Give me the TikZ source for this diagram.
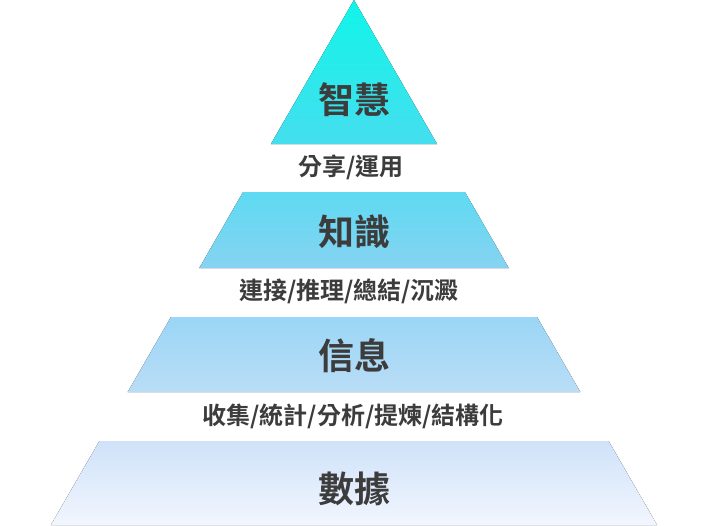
\documentclass[tikz,border=0pt]{standalone}
\usepackage{fontspec}
\newfontfamily\cjk{Noto Sans CJK TC}[BoldFont={Noto Sans CJK TC Bold}]
\definecolor{txt}{HTML}{3C3C3C}
\definecolor{aTop}{HTML}{10F5E9}
\definecolor{aBot}{HTML}{45DEEE}
\definecolor{bTop}{HTML}{5EDAF2}
\definecolor{bBot}{HTML}{86D3F1}
\definecolor{cTop}{HTML}{9AD6F6}
\definecolor{cBot}{HTML}{BADDF6}
\definecolor{dTop}{HTML}{CFE2F9}
\definecolor{dBot}{HTML}{F2F6FE}
\tikzset{
  biglabel/.style={inner sep=0pt, text=txt, font=\cjk\bfseries\fontsize{36}{40}\selectfont},
  smalllabel/.style={inner sep=0pt, text=txt, font=\cjk\bfseries\fontsize{24}{28}\selectfont},
}
\begin{document}
\begin{tikzpicture}[x=1pt,y=-1pt]
\useasboundingbox (0,0) rectangle (709,525);
\fill[white] (0,0) rectangle (709,525);
% half width = 0.5774*y, apex at (354,0)
\fill[top color=aTop, bottom color=aBot] (354,0) -- (437.1,144) -- (270.9,144) -- cycle;
\fill[top color=bTop, bottom color=bBot] (243.1,192) -- (464.9,192) -- (508.7,268) -- (199.3,268) -- cycle;
\fill[top color=cTop, bottom color=cBot] (171.0,317) -- (537.0,317) -- (580.3,392) -- (127.7,392) -- cycle;
\fill[top color=dTop, bottom color=dBot] (99.4,441) -- (608.6,441) -- (657.1,525) -- (50.9,525) -- cycle;
\node[biglabel] (wisdom) at (354,100) {智慧};
\node[smalllabel] (l1) at (351,167) {分享/運用};
\node[biglabel] (knowledge) at (354,232) {知識};
\node[smalllabel] (l2) at (349,291.5) {連接/推理/總結/沉澱};
\node[biglabel] (info) at (354,355.5) {信息};
\node[smalllabel] (l3) at (353,416) {收集/統計/分析/提煉/結構化};
\node[biglabel] (data) at (354,489) {數據};
\end{tikzpicture}
\end{document}
